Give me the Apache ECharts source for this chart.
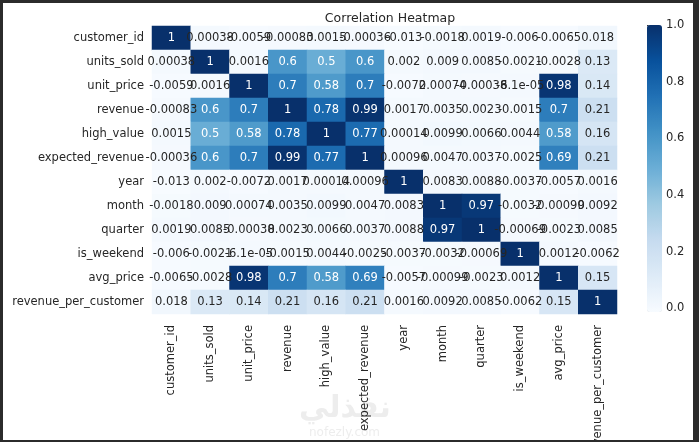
<!DOCTYPE html>
<html>
<head>
<meta charset="utf-8">
<script src="https://cdn.jsdelivr.net/npm/echarts@6/dist/echarts.min.js"></script>
<style>
html,body{margin:0;padding:0;background:#2b2b2b;width:699px;height:442px;overflow:hidden;}
#c{position:absolute;left:3px;top:3px;width:690px;height:437px;background:#fff;}
</style>
</head>
<body>
<div id="c"></div>
<script>
const labels = ['customer_id','units_sold','unit_price','revenue','high_value','expected_revenue','year','month','quarter','is_weekend','avg_price','revenue_per_customer'];
const row_customer_id = [1, 0.00038, -0.0059, -0.00083, 0.0015, -0.00036, -0.013, -0.0018, 0.0019, -0.006, -0.0065, 0.018];
const row_units_sold = [0.00038, 1, 0.0016, 0.6, 0.5, 0.6, 0.002, 0.009, 0.0085, -0.0021, -0.0028, 0.13];
const row_unit_price = [-0.0059, 0.0016, 1, 0.7, 0.58, 0.7, -0.0072, 0.00074, -0.00038, -6.1e-05, 0.98, 0.14];
const row_revenue = [-0.00083, 0.6, 0.7, 1, 0.78, 0.99, 0.0017, 0.0035, 0.0023, -0.0015, 0.7, 0.21];
const row_high_value = [0.0015, 0.5, 0.58, 0.78, 1, 0.77, 0.00014, 0.0099, 0.0066, 0.0044, 0.58, 0.16];
const row_expected_revenue = [-0.00036, 0.6, 0.7, 0.99, 0.77, 1, 0.00096, 0.0047, 0.0037, -0.0025, 0.69, 0.21];
const row_year = [-0.013, 0.002, -0.0072, 0.0017, 0.00014, 0.00096, 1, 0.0083, 0.0088, -0.0037, -0.0057, 0.0016];
const row_month = [-0.0018, 0.009, 0.00074, 0.0035, 0.0099, 0.0047, 0.0083, 1, 0.97, -0.0032, -0.00099, 0.0092];
const row_quarter = [0.0019, 0.0085, -0.00038, 0.0023, 0.0066, 0.0037, 0.0088, 0.97, 1, -0.00069, -0.0023, 0.0085];
const row_is_weekend = [-0.006, -0.0021, -6.1e-05, -0.0015, 0.0044, -0.0025, -0.0037, -0.0032, -0.00069, 1, 0.0012, -0.0062];
const row_avg_price = [-0.0065, -0.0028, 0.98, 0.7, 0.58, 0.69, -0.0057, -0.00099, -0.0023, 0.0012, 1, 0.15];
const row_revenue_per_customer = [0.018, 0.13, 0.14, 0.21, 0.16, 0.21, 0.0016, 0.0092, 0.0085, -0.0062, 0.15, 1];
const colorbarTicks = [0, 0.2, 0.4, 0.6, 0.8, 1.0];
const colorbarMin = -0.013, colorbarMax = 1;

const matrix = [row_customer_id,row_units_sold,row_unit_price,row_revenue,row_high_value,row_expected_revenue,row_year,row_month,row_quarter,row_is_weekend,row_avg_price,row_revenue_per_customer];
const blues = ['#f7fbff','#deebf7','#c6dbef','#9ecae1','#6baed6','#4292c6','#2171b5','#08519c','#08306b'];
const FONT = 'DejaVu Sans';
const DARK = '#262626';
const FS = 11.5;

function fmt2g(v){
  if (v === 0) return '0';
  const a = Math.abs(v);
  if (a < 1e-4) {
    let s = v.toExponential(1);
    s = s.replace(/\.0e/, 'e');
    s = s.replace(/e([+-])(\d)$/, 'e$10$2');
    return s;
  }
  let s = v.toPrecision(2);
  if (s.indexOf('.') >= 0) s = s.replace(/0+$/, '').replace(/\.$/, '');
  return s;
}

const data = [];
for (let r = 0; r < labels.length; r++) {
  for (let c = 0; c < labels.length; c++) {
    const v = matrix[r][c];
    data.push({value: [c, r, v], label: {color: v > 0.4 ? '#ffffff' : DARK}});
  }
}

const chart = echarts.init(document.getElementById('c'));
chart.setOption({
  backgroundColor: '#ffffff',
  animation: false,
  title: {text: 'Correlation Heatmap', left: 382, top: 4, textAlign: 'center',
    textStyle: {fontFamily: FONT, fontSize: 12.5, fontWeight: 'normal', color: DARK}},
  grid: [
    {left: 149, top: 23, width: 465, height: 288, outerBoundsMode: 'none', containLabel: false},
    {left: 644, top: 22, width: 15, height: 287, outerBoundsMode: 'none', containLabel: false}
  ],
  xAxis: [
    {type: 'category', data: labels, gridIndex: 0, position: 'bottom',
      axisLine: {show: false}, axisTick: {show: false}, splitLine: {show: false},
      axisLabel: {rotate: 90, margin: 11, fontFamily: FONT, fontSize: FS, color: DARK, interval: 0}},
    {type: 'value', gridIndex: 1, show: false, min: 0, max: 1}
  ],
  yAxis: [
    {type: 'category', data: labels, gridIndex: 0, inverse: true,
      axisLine: {show: false}, axisTick: {show: false}, splitLine: {show: false},
      axisLabel: {margin: 8, fontFamily: FONT, fontSize: FS, color: DARK, interval: 0}},
    {type: 'value', gridIndex: 1, position: 'right', min: colorbarMin, max: colorbarMax,
      axisLine: {show: false}, splitLine: {show: false},
      axisTick: {show: true, length: 4, lineStyle: {color: DARK}, customValues: colorbarTicks},
      axisLabel: {margin: 4, fontFamily: FONT, fontSize: FS, color: DARK, customValues: colorbarTicks,
        formatter: v => v.toFixed(1)}}
  ],
  visualMap: {
    type: 'continuous', min: colorbarMin, max: colorbarMax, calculable: false,
    seriesIndex: 0, dimension: 2,
    orient: 'vertical', left: 644, top: 22, itemWidth: 15, itemHeight: 287,
    text: ['', ''], showLabel: false, padding: 0,
    inRange: {color: blues}
  },
  series: [{
    type: 'heatmap', xAxisIndex: 0, yAxisIndex: 0, data: data,
    itemStyle: {borderWidth: 0},
    label: {show: true, fontFamily: FONT, fontSize: FS,
      formatter: p => fmt2g(p.value[2])},
    emphasis: {disabled: true}
  }],
  graphic: [
    {type: 'text', left: 296, top: 390, style: {text: 'نفذلي', font: 'bold 30px "Noto Sans", "DejaVu Sans"', fill: '#ededed'}},
    {type: 'text', left: 306, top: 424, style: {text: 'nofezly.com', font: '12px "DejaVu Sans"', fill: '#ededed'}}
  ]
});
</script>
</body>
</html>
